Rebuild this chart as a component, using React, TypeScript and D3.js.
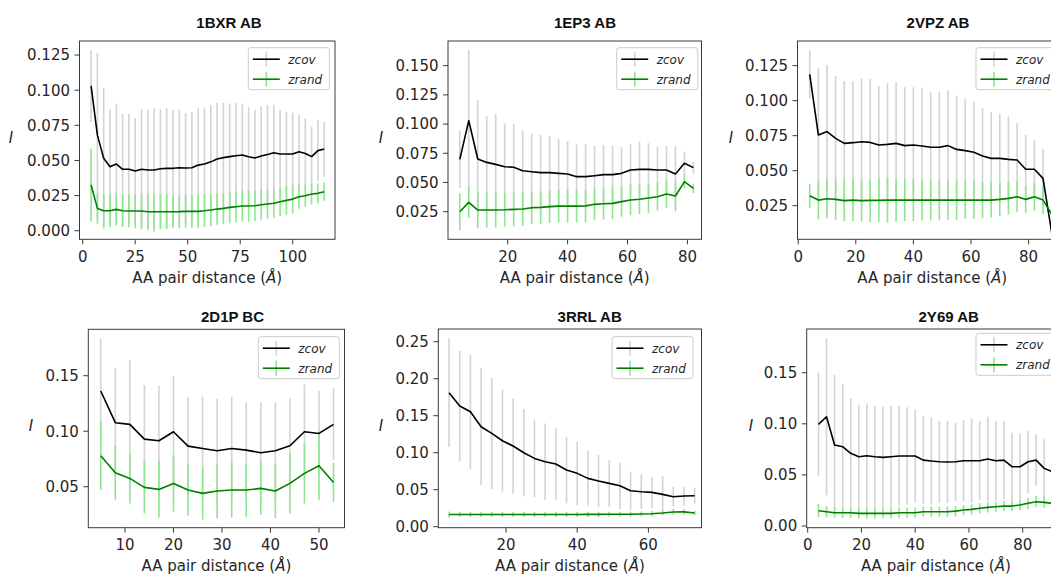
import React from 'react';
import * as d3 from 'd3';

// ---- 1BXR AB ----
const dist1BXR = [4, 7, 10, 13, 16, 19, 22, 25, 28, 31, 34, 37, 40, 43, 46, 49, 52, 55, 58, 61, 64, 67, 70, 73, 76, 79, 82, 85, 88, 91, 94, 97, 100, 103, 106, 109, 112, 115];
const zcov1BXR = [0.103, 0.068, 0.0515, 0.0455, 0.0475, 0.0437, 0.0437, 0.0425, 0.0437, 0.0432, 0.0432, 0.0441, 0.0444, 0.0444, 0.0448, 0.0446, 0.0448, 0.0467, 0.0475, 0.049, 0.051, 0.052, 0.0527, 0.0534, 0.0539, 0.0527, 0.0517, 0.0531, 0.0543, 0.0555, 0.0546, 0.0546, 0.0546, 0.0562, 0.055, 0.0527, 0.057, 0.0581];
const zcovErr1BXR = [0.0256, 0.0587, 0.0505, 0.0404, 0.0431, 0.0398, 0.0393, 0.0375, 0.0427, 0.0427, 0.0439, 0.0423, 0.0427, 0.0415, 0.0411, 0.0389, 0.0399, 0.0404, 0.0401, 0.0404, 0.0401, 0.0391, 0.0379, 0.0377, 0.0367, 0.0356, 0.0342, 0.0352, 0.0352, 0.034, 0.0313, 0.0301, 0.0294, 0.0261, 0.025, 0.0213, 0.0218, 0.0195];
const zrand1BXR = [0.0325, 0.0159, 0.0142, 0.0142, 0.0152, 0.0142, 0.014, 0.014, 0.014, 0.0135, 0.0135, 0.0135, 0.0135, 0.0135, 0.0136, 0.0138, 0.0138, 0.0138, 0.0142, 0.0147, 0.0154, 0.0159, 0.0166, 0.0171, 0.0176, 0.0176, 0.0178, 0.0185, 0.019, 0.0195, 0.0206, 0.0216, 0.0225, 0.0242, 0.0249, 0.0261, 0.0266, 0.0278];
const zrandErr1BXR = [0.0258, 0.011, 0.0115, 0.0115, 0.0115, 0.0115, 0.0115, 0.0122, 0.0125, 0.0125, 0.0125, 0.0122, 0.0122, 0.0118, 0.0118, 0.0118, 0.0116, 0.0116, 0.0116, 0.0114, 0.0112, 0.0112, 0.0112, 0.011, 0.011, 0.011, 0.0108, 0.0105, 0.0105, 0.0105, 0.0103, 0.0102, 0.01, 0.0085, 0.008, 0.0075, 0.007, 0.0065];

// ---- 1EP3 AB ----
const dist1EP3 = [4, 7, 10, 13, 16, 19, 22, 25, 28, 31, 34, 37, 40, 43, 46, 49, 52, 55, 58, 61, 64, 67, 70, 73, 76, 79, 82];
const zcov1EP3 = [0.0698, 0.1029, 0.0701, 0.0672, 0.0655, 0.0635, 0.063, 0.0601, 0.0592, 0.0584, 0.0584, 0.0578, 0.0573, 0.055, 0.055, 0.0558, 0.0567, 0.0567, 0.0578, 0.0607, 0.0612, 0.0612, 0.0607, 0.0607, 0.0573, 0.0664, 0.0627];
const zcovErr1EP3 = [0.0245, 0.0605, 0.0505, 0.0397, 0.0431, 0.0371, 0.0371, 0.034, 0.0323, 0.0322, 0.0314, 0.0291, 0.0282, 0.0276, 0.0279, 0.0257, 0.0251, 0.0248, 0.0223, 0.0222, 0.0237, 0.0223, 0.0199, 0.0208, 0.0239, 0.01, 0.005];
const zrand1EP3 = [0.025, 0.033, 0.0264, 0.0264, 0.0264, 0.0266, 0.027, 0.0273, 0.0284, 0.0287, 0.0293, 0.0298, 0.0298, 0.0298, 0.03, 0.0313, 0.0318, 0.0321, 0.0336, 0.035, 0.0356, 0.0367, 0.0378, 0.0401, 0.0384, 0.0507, 0.045];
const zrandErr1EP3 = [0.0157, 0.0135, 0.0155, 0.015, 0.015, 0.0145, 0.0145, 0.0145, 0.014, 0.014, 0.014, 0.014, 0.014, 0.014, 0.014, 0.0135, 0.0135, 0.0135, 0.013, 0.013, 0.0125, 0.0125, 0.012, 0.012, 0.013, 0.006, 0.004];

// ---- 2VPZ AB ----
const dist2VPZ = [4, 7, 10, 13, 16, 19, 22, 25, 28, 31, 34, 37, 40, 43, 46, 49, 52, 55, 58, 61, 64, 67, 70, 73, 76, 79, 82, 85, 88];
const zcov2VPZ = [0.1188, 0.0755, 0.0779, 0.0731, 0.0695, 0.07, 0.0707, 0.0702, 0.0683, 0.0688, 0.0695, 0.0679, 0.0683, 0.0676, 0.0667, 0.0667, 0.0679, 0.0652, 0.0643, 0.0631, 0.0605, 0.0588, 0.0588, 0.0581, 0.0576, 0.051, 0.051, 0.0445, 0.006];
const zcovErr2VPZ = [0.0174, 0.0476, 0.0476, 0.0445, 0.0445, 0.044, 0.0453, 0.0453, 0.0422, 0.0436, 0.0436, 0.0416, 0.0412, 0.0417, 0.0397, 0.0397, 0.0397, 0.0384, 0.0369, 0.0362, 0.034, 0.0329, 0.0317, 0.0305, 0.0262, 0.0245, 0.0209, 0.021, 0.005];
const zrand2VPZ = [0.0321, 0.029, 0.03, 0.0295, 0.0286, 0.029, 0.0286, 0.0288, 0.0288, 0.029, 0.029, 0.029, 0.029, 0.029, 0.029, 0.029, 0.029, 0.029, 0.029, 0.029, 0.029, 0.029, 0.0295, 0.0302, 0.0314, 0.0295, 0.0314, 0.029, 0.019];
const zrandErr2VPZ = [0.0085, 0.0137, 0.014, 0.0145, 0.0145, 0.015, 0.015, 0.0155, 0.0155, 0.016, 0.0155, 0.015, 0.015, 0.0145, 0.0145, 0.0145, 0.014, 0.014, 0.0135, 0.0135, 0.013, 0.0125, 0.012, 0.0115, 0.011, 0.0096, 0.01, 0.01, 0.006];

// ---- 2D1P BC ----
const dist2D1P = [5, 8, 11, 14, 17, 20, 23, 26, 29, 32, 35, 38, 41, 44, 47, 50, 53];
const zcov2D1P = [0.1362, 0.1077, 0.1062, 0.0929, 0.0914, 0.0995, 0.0866, 0.0845, 0.0824, 0.0845, 0.083, 0.0806, 0.0824, 0.0869, 0.0995, 0.098, 0.1062];
const zcovErr2D1P = [0.0474, 0.0489, 0.0579, 0.0487, 0.0496, 0.0502, 0.0445, 0.0466, 0.0466, 0.0466, 0.043, 0.0454, 0.0436, 0.0427, 0.0427, 0.0382, 0.0324];
const zrand2D1P = [0.0779, 0.0626, 0.0575, 0.0494, 0.0476, 0.053, 0.047, 0.044, 0.0461, 0.047, 0.047, 0.0485, 0.0461, 0.053, 0.062, 0.0689, 0.0539];
const zrandErr2D1P = [0.0307, 0.024, 0.0225, 0.0234, 0.0255, 0.0255, 0.023, 0.0236, 0.0245, 0.025, 0.024, 0.024, 0.0245, 0.027, 0.027, 0.031, 0.0176];

// ---- 3RRL AB ----
const dist3RRL = [4, 7, 10, 13, 16, 19, 22, 25, 28, 31, 34, 37, 40, 43, 46, 49, 52, 55, 58, 61, 64, 67, 70, 73];
const zcov3RRL = [0.1811, 0.1631, 0.1554, 0.1351, 0.1261, 0.1162, 0.109, 0.1, 0.0923, 0.0878, 0.0847, 0.0766, 0.0721, 0.0653, 0.0617, 0.0586, 0.0554, 0.0486, 0.0473, 0.0464, 0.0437, 0.0405, 0.0414, 0.0419];
const zcovErr3RRL = [0.0734, 0.0743, 0.0775, 0.0789, 0.0753, 0.0685, 0.0644, 0.059, 0.0527, 0.0518, 0.0491, 0.045, 0.0428, 0.037, 0.0351, 0.0315, 0.0315, 0.0257, 0.0234, 0.0212, 0.0252, 0.0136, 0.0127, 0.0108];
const zrand3RRL = [0.0165, 0.0165, 0.0165, 0.0165, 0.0165, 0.0165, 0.0165, 0.0165, 0.0165, 0.0165, 0.0165, 0.0165, 0.0165, 0.0167, 0.0167, 0.0168, 0.0168, 0.0169, 0.0172, 0.0176, 0.0185, 0.0198, 0.02, 0.0185];
const zrandErr3RRL = [0.004, 0.0035, 0.0035, 0.0035, 0.0035, 0.0035, 0.0035, 0.0035, 0.0035, 0.0035, 0.0035, 0.0035, 0.0035, 0.0035, 0.0035, 0.0035, 0.0035, 0.0035, 0.0035, 0.0035, 0.0035, 0.004, 0.004, 0.003];

// ---- 2Y69 AB ----
const dist2Y69 = [4, 7, 10, 13, 16, 19, 22, 25, 28, 31, 34, 37, 40, 43, 46, 49, 52, 55, 58, 61, 64, 67, 70, 73, 76, 79, 82, 85, 88, 91];
const zcov2Y69 = [0.0994, 0.1069, 0.0792, 0.0776, 0.0711, 0.0678, 0.0688, 0.0678, 0.0672, 0.0678, 0.0685, 0.0685, 0.0685, 0.0645, 0.0636, 0.0629, 0.0626, 0.0629, 0.0639, 0.0639, 0.0639, 0.0655, 0.0639, 0.0645, 0.058, 0.058, 0.0629, 0.0645, 0.0564, 0.0531];
const zcovErr2Y69 = [0.0506, 0.0767, 0.0685, 0.0613, 0.0538, 0.0506, 0.0512, 0.0499, 0.0495, 0.0499, 0.0492, 0.0476, 0.0456, 0.0431, 0.0427, 0.0401, 0.0401, 0.0382, 0.0398, 0.0414, 0.0388, 0.0414, 0.0388, 0.0385, 0.0333, 0.0326, 0.0303, 0.0252, 0.0284, 0.025];
const zrand2Y69 = [0.015, 0.014, 0.013, 0.013, 0.013, 0.0124, 0.0124, 0.0124, 0.0124, 0.0124, 0.013, 0.013, 0.013, 0.014, 0.014, 0.014, 0.014, 0.0146, 0.0156, 0.0163, 0.0173, 0.0182, 0.0189, 0.0195, 0.0195, 0.0205, 0.0222, 0.0238, 0.0231, 0.0222];
const zrandErr2Y69 = [0.0065, 0.0055, 0.005, 0.005, 0.005, 0.005, 0.005, 0.005, 0.005, 0.005, 0.005, 0.005, 0.005, 0.005, 0.005, 0.005, 0.005, 0.005, 0.005, 0.005, 0.005, 0.005, 0.005, 0.005, 0.005, 0.005, 0.0055, 0.0055, 0.0055, 0.0055];

// ---- tick values ----
const xTicks1BXR = [0, 25, 50, 75, 100];
const yTicks1BXR = [0, 0.025, 0.05, 0.075, 0.1, 0.125];
const xTicks1EP3 = [20, 40, 60, 80];
const yTicks1EP3 = [0.025, 0.05, 0.075, 0.1, 0.125, 0.15];
const xTicks2VPZ = [0, 20, 40, 60, 80];
const yTicks2VPZ = [0.025, 0.05, 0.075, 0.1, 0.125];
const xTicks2D1P = [10, 20, 30, 40, 50];
const yTicks2D1P = [0.05, 0.1, 0.15];
const xTicks3RRL = [20, 40, 60];
const yTicks3RRL = [0, 0.05, 0.1, 0.15, 0.2, 0.25];
const xTicks2Y69 = [0, 20, 40, 60, 80];
const yTicks2Y69 = [0, 0.05, 0.1, 0.15];

const seriesNames = ['zcov', 'zrand'];

// ---- styling ----
const COV_LINE = '#000000';
const COV_BAR = '#d3d3d3';
const RAND_LINE = '#008000';
const RAND_BAR = '#8ee58e';
const TEXT = '#262626';
const SPINE = '#3a3a3a';
const FONT = '"DejaVu Sans", sans-serif';

type PanelSpec = {
  title: string;
  dist: number[];
  cov: number[];
  covErr: number[];
  rand: number[];
  randErr: number[];
  xTicks: number[];
  yTicks: number[];
  yDigits: number;
  box: { l: number; r: number; t: number; b: number };
  xDomain: [number, number];
  yDomain: [number, number];
  titleX: number;
  titleY: number;
  ylabelX: number;
  legend: { x: number; y: number };
};

const panels: PanelSpec[] = [
  {
    title: '1BXR AB', dist: dist1BXR, cov: zcov1BXR, covErr: zcovErr1BXR, rand: zrand1BXR, randErr: zrandErr1BXR,
    xTicks: xTicks1BXR, yTicks: yTicks1BXR, yDigits: 3,
    box: { l: 79.5, r: 335, t: 41, b: 239.3 }, xDomain: [-1.524, 120.14], yDomain: [-0.0061, 0.135],
    titleX: 229, titleY: 27.5, ylabelX: 11, legend: { x: 248.3, y: 47.7 },
  },
  {
    title: '1EP3 AB', dist: dist1EP3, cov: zcov1EP3, covErr: zcovErr1EP3, rand: zrand1EP3, randErr: zrandErr1EP3,
    xTicks: xTicks1EP3, yTicks: yTicks1EP3, yDigits: 3,
    box: { l: 448, r: 701.5, t: 41, b: 239.3 }, xDomain: [0.067, 84.7], yDomain: [0.00137, 0.1711],
    titleX: 585, titleY: 28, ylabelX: 381, legend: { x: 616.7, y: 47.7 },
  },
  {
    title: '2VPZ AB', dist: dist2VPZ, cov: zcov2VPZ, covErr: zcovErr2VPZ, rand: zrand2VPZ, randErr: zrandErr2VPZ,
    xTicks: xTicks2VPZ, yTicks: yTicks2VPZ, yDigits: 3,
    box: { l: 797.5, r: 1067, t: 41, b: 239.3 }, xDomain: [-0.243, 93.33], yDomain: [0.001, 0.1426],
    titleX: 938, titleY: 28, ylabelX: 731, legend: { x: 976, y: 47.7 },
  },
  {
    title: '2D1P BC', dist: dist2D1P, cov: zcov2D1P, covErr: zcovErr2D1P, rand: zrand2D1P, randErr: zrandErr2D1P,
    xTicks: xTicks2D1P, yTicks: yTicks2D1P, yDigits: 2,
    box: { l: 88.3, r: 344.5, t: 329.3, b: 527.7 }, xDomain: [2.433, 55.26], yDomain: [0.0131, 0.1918],
    titleX: 232.5, titleY: 321.7, ylabelX: 31, legend: { x: 258.3, y: 336.7 },
  },
  {
    title: '3RRL AB', dist: dist3RRL, cov: zcov3RRL, covErr: zcovErr3RRL, rand: zrand3RRL, randErr: zrandErr3RRL,
    xTicks: xTicks3RRL, yTicks: yTicks3RRL, yDigits: 2,
    box: { l: 438.3, r: 701.5, t: 329, b: 527.7 }, xDomain: [0.983, 74.92], yDomain: [-0.00135, 0.2672],
    titleX: 589.7, titleY: 321.7, ylabelX: 381, legend: { x: 612, y: 336.7 },
  },
  {
    title: '2Y69 AB', dist: dist2Y69, cov: zcov2Y69, covErr: zcovErr2Y69, rand: zrand2Y69, randErr: zrandErr2Y69,
    xTicks: xTicks2Y69, yTicks: yTicks2Y69, yDigits: 2,
    box: { l: 806.7, r: 1065, t: 329, b: 527.7 }, xDomain: [-0.372, 95.74], yDomain: [-0.00166, 0.1928],
    titleX: 948.7, titleY: 321.7, ylabelX: 751, legend: { x: 976, y: 333.3 },
  },
];

function Legend({ x, y }: { x: number; y: number }) {
  const w = 81;
  const h = 42;
  const rows = [
    { name: seriesNames[0], line: COV_LINE, bar: COV_BAR },
    { name: seriesNames[1], line: RAND_LINE, bar: RAND_BAR },
  ];
  return (
    <g>
      <rect x={x} y={y} width={w} height={h} rx={2.5} fill="#ffffff" fillOpacity={0.8} stroke="#cccccc" strokeWidth={1} />
      {rows.map((row, i) => {
        const cy = y + 11.5 + i * 20;
        const hx0 = x + 4.5;
        const hx1 = x + 31.5;
        const hc = (hx0 + hx1) / 2;
        return (
          <g key={row.name}>
            <line x1={hc} x2={hc} y1={cy - 7.5} y2={cy + 7.5} stroke={row.bar} strokeWidth={1.6} />
            <line x1={hx0} x2={hx1} y1={cy} y2={cy} stroke={row.line} strokeWidth={1.6} />
            <text x={x + 40} y={cy + 4.3} fontFamily={FONT} fontStyle="italic" fontSize={12} fill={TEXT}>
              {row.name}
            </text>
          </g>
        );
      })}
    </g>
  );
}

function Panel({ p, idx }: { p: PanelSpec; idx: number }) {
  const { l, r, t, b } = p.box;
  const x = d3.scaleLinear().domain(p.xDomain).range([l, r]);
  const y = d3.scaleLinear().domain(p.yDomain).range([b, t]);
  const line = d3
    .line<number>()
    .x((_, i) => x(p.dist[i]))
    .y((d) => y(d));
  const clipId = `clip-${idx}`;
  const fmt = d3.format(`.${p.yDigits}f`);
  const midX = (l + r) / 2;
  const midY = (t + b) / 2;
  const xLabelY = t < 200 ? 283 : 571;

  return (
    <g>
      <defs>
        <clipPath id={clipId}>
          <rect x={l} y={t} width={r - l} height={b - t} />
        </clipPath>
      </defs>

      <g clipPath={`url(#${clipId})`}>
        {p.dist.map((d, i) => (
          <line key={`cb${i}`} x1={x(d)} x2={x(d)} y1={y(p.cov[i] - p.covErr[i])} y2={y(p.cov[i] + p.covErr[i])}
            stroke={COV_BAR} strokeWidth={1.6} />
        ))}
        {p.dist.map((d, i) => (
          <line key={`rb${i}`} x1={x(d)} x2={x(d)} y1={y(p.rand[i] - p.randErr[i])} y2={y(p.rand[i] + p.randErr[i])}
            stroke={RAND_BAR} strokeWidth={1.6} />
        ))}
        <path d={line(p.cov) ?? ''} fill="none" stroke={COV_LINE} strokeWidth={1.6} strokeLinejoin="round" />
        <path d={line(p.rand) ?? ''} fill="none" stroke={RAND_LINE} strokeWidth={1.6} strokeLinejoin="round" />
      </g>

      <rect x={l} y={t} width={r - l} height={b - t} fill="none" stroke={SPINE} strokeWidth={1} />

      {p.xTicks.map((v) => (
        <g key={`xt${v}`}>
          <line x1={x(v)} x2={x(v)} y1={b} y2={b + 5} stroke={SPINE} strokeWidth={1} />
          <text x={x(v)} y={b + 22.2} textAnchor="middle" fontFamily={FONT} fontSize={15} fill={TEXT}>
            {String(v)}
          </text>
        </g>
      ))}
      {p.yTicks.map((v) => (
        <g key={`yt${v}`}>
          <line x1={l - 5} x2={l} y1={y(v)} y2={y(v)} stroke={SPINE} strokeWidth={1} />
          <text x={l - 9.5} y={y(v) + 5.4} textAnchor="end" fontFamily={FONT} fontSize={15} fill={TEXT}>
            {fmt(v)}
          </text>
        </g>
      ))}

      <text x={p.titleX} y={p.titleY} textAnchor="middle" fontFamily='"Liberation Sans", Arial, sans-serif'
        fontWeight="bold" fontSize={15} fill="#111">
        {p.title}
      </text>
      <text x={p.ylabelX} y={midY + 2.5} textAnchor="middle" fontFamily={FONT} fontStyle="italic" fontSize={15} fill={TEXT}>
        I
      </text>
      <text x={midX} y={xLabelY} textAnchor="middle" fontFamily={FONT} fontSize={15} fill={TEXT}>
        AA pair distance (<tspan fontStyle="italic">Å</tspan>)
      </text>

      <Legend x={p.legend.x} y={p.legend.y} />
    </g>
  );
}

export default function App() {
  return (
    <svg
      width={1051}
      height={575}
      viewBox="0 0 1051 575"
      style={{ position: 'absolute', left: 0, top: 0, display: 'block', background: '#ffffff' }}
    >
      <rect x={0} y={0} width={1051} height={575} fill="#ffffff" />
      {panels.map((p, i) => (
        <Panel key={p.title} p={p} idx={i} />
      ))}
    </svg>
  );
}
